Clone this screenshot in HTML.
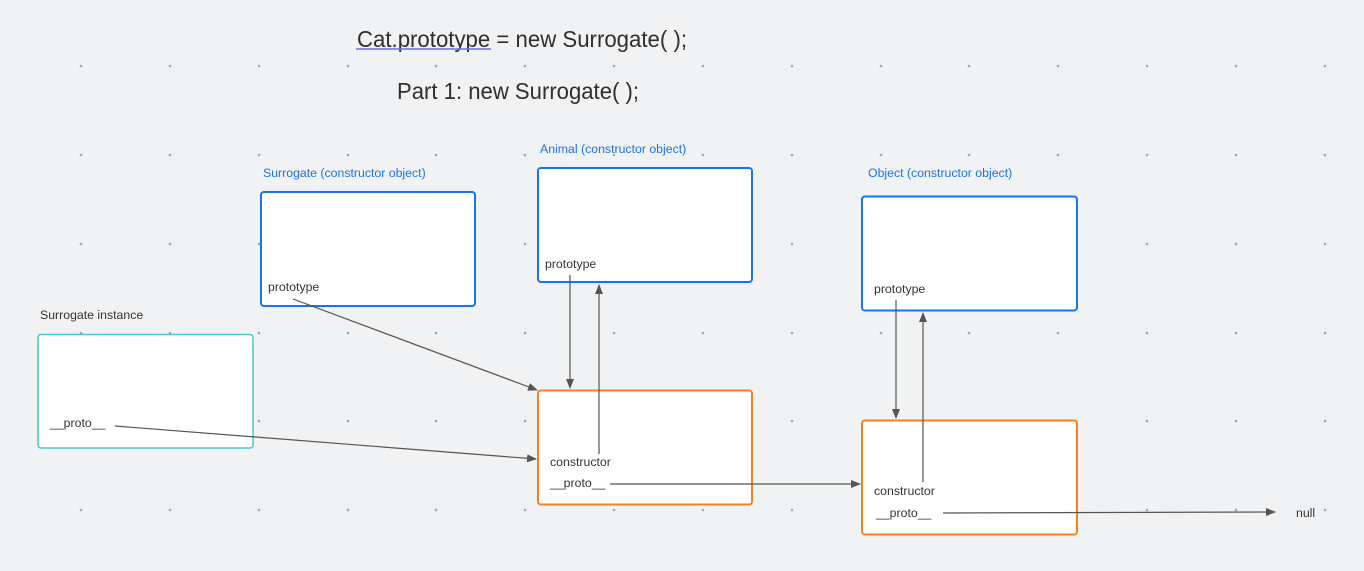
<!DOCTYPE html>
<html><head><meta charset="utf-8"><style>
html,body{margin:0;padding:0;background:#f1f2f4;}
svg{display:block;font-family:"Liberation Sans",Arial,sans-serif;}
</style></head><body>
<svg width="1364" height="571" viewBox="0 0 1364 571" xmlns="http://www.w3.org/2000/svg">
<defs>
<marker id="a" markerWidth="10" markerHeight="8" refX="9" refY="4" orient="auto" markerUnits="userSpaceOnUse">
<path d="M0,0 L10,4 L0,8 Z" fill="#555"/></marker>
</defs>
<rect width="1364" height="571" fill="#f1f2f4"/>
<g fill="#a4a7ad">
<circle cx="81" cy="66" r="1.3"/><circle cx="170" cy="66" r="1.3"/><circle cx="259" cy="66" r="1.3"/><circle cx="348" cy="66" r="1.3"/><circle cx="436" cy="66" r="1.3"/><circle cx="525" cy="66" r="1.3"/><circle cx="614" cy="66" r="1.3"/><circle cx="703" cy="66" r="1.3"/><circle cx="792" cy="66" r="1.3"/><circle cx="881" cy="66" r="1.3"/><circle cx="969" cy="66" r="1.3"/><circle cx="1058" cy="66" r="1.3"/><circle cx="1147" cy="66" r="1.3"/><circle cx="1236" cy="66" r="1.3"/><circle cx="1325" cy="66" r="1.3"/>
<circle cx="81" cy="155" r="1.3"/><circle cx="170" cy="155" r="1.3"/><circle cx="259" cy="155" r="1.3"/><circle cx="348" cy="155" r="1.3"/><circle cx="436" cy="155" r="1.3"/><circle cx="525" cy="155" r="1.3"/><circle cx="614" cy="155" r="1.3"/><circle cx="703" cy="155" r="1.3"/><circle cx="792" cy="155" r="1.3"/><circle cx="881" cy="155" r="1.3"/><circle cx="969" cy="155" r="1.3"/><circle cx="1058" cy="155" r="1.3"/><circle cx="1147" cy="155" r="1.3"/><circle cx="1236" cy="155" r="1.3"/><circle cx="1325" cy="155" r="1.3"/>
<circle cx="81" cy="244" r="1.3"/><circle cx="170" cy="244" r="1.3"/><circle cx="259" cy="244" r="1.3"/><circle cx="348" cy="244" r="1.3"/><circle cx="436" cy="244" r="1.3"/><circle cx="525" cy="244" r="1.3"/><circle cx="614" cy="244" r="1.3"/><circle cx="703" cy="244" r="1.3"/><circle cx="792" cy="244" r="1.3"/><circle cx="881" cy="244" r="1.3"/><circle cx="969" cy="244" r="1.3"/><circle cx="1058" cy="244" r="1.3"/><circle cx="1147" cy="244" r="1.3"/><circle cx="1236" cy="244" r="1.3"/><circle cx="1325" cy="244" r="1.3"/>
<circle cx="81" cy="333" r="1.3"/><circle cx="170" cy="333" r="1.3"/><circle cx="259" cy="333" r="1.3"/><circle cx="348" cy="333" r="1.3"/><circle cx="436" cy="333" r="1.3"/><circle cx="525" cy="333" r="1.3"/><circle cx="614" cy="333" r="1.3"/><circle cx="703" cy="333" r="1.3"/><circle cx="792" cy="333" r="1.3"/><circle cx="881" cy="333" r="1.3"/><circle cx="969" cy="333" r="1.3"/><circle cx="1058" cy="333" r="1.3"/><circle cx="1147" cy="333" r="1.3"/><circle cx="1236" cy="333" r="1.3"/><circle cx="1325" cy="333" r="1.3"/>
<circle cx="81" cy="421" r="1.3"/><circle cx="170" cy="421" r="1.3"/><circle cx="259" cy="421" r="1.3"/><circle cx="348" cy="421" r="1.3"/><circle cx="436" cy="421" r="1.3"/><circle cx="525" cy="421" r="1.3"/><circle cx="614" cy="421" r="1.3"/><circle cx="703" cy="421" r="1.3"/><circle cx="792" cy="421" r="1.3"/><circle cx="881" cy="421" r="1.3"/><circle cx="969" cy="421" r="1.3"/><circle cx="1058" cy="421" r="1.3"/><circle cx="1147" cy="421" r="1.3"/><circle cx="1236" cy="421" r="1.3"/><circle cx="1325" cy="421" r="1.3"/>
<circle cx="81" cy="510" r="1.3"/><circle cx="170" cy="510" r="1.3"/><circle cx="259" cy="510" r="1.3"/><circle cx="348" cy="510" r="1.3"/><circle cx="436" cy="510" r="1.3"/><circle cx="525" cy="510" r="1.3"/><circle cx="614" cy="510" r="1.3"/><circle cx="703" cy="510" r="1.3"/><circle cx="792" cy="510" r="1.3"/><circle cx="881" cy="510" r="1.3"/><circle cx="969" cy="510" r="1.3"/><circle cx="1058" cy="510" r="1.3"/><circle cx="1147" cy="510" r="1.3"/><circle cx="1236" cy="510" r="1.3"/><circle cx="1325" cy="510" r="1.3"/>
</g>

<text x="357" y="47" font-size="23" fill="#2e2e2e" textLength="330" lengthAdjust="spacingAndGlyphs">Cat.prototype = new Surrogate( );</text>
<line x1="356" y1="49" x2="491" y2="49" stroke="#6a6ee8" stroke-width="1.5"/>
<text x="397" y="99" font-size="23" fill="#2e2e2e" textLength="242" lengthAdjust="spacingAndGlyphs">Part 1: new Surrogate( );</text>

<g fill="#fff" stroke-width="2">
<rect x="38" y="334.5" width="215" height="113.5" rx="3" stroke="#4fc5c6" stroke-width="1.5"/>
<rect x="261" y="192" width="214" height="114" rx="3" stroke="#1a73e8"/>
<rect x="538" y="168" width="214" height="114" rx="3" stroke="#1a73e8"/>
<rect x="862" y="196.5" width="215" height="114" rx="3" stroke="#1a73e8"/>
<rect x="538" y="390.5" width="214" height="114" rx="3" stroke="#f5821f"/>
<rect x="862" y="420.5" width="215" height="114" rx="3" stroke="#f5821f"/>
</g>

<g font-size="12.3" fill="#1a73e8">
<text x="263" y="177">Surrogate (constructor object)</text>
<text x="540" y="153">Animal (constructor object)</text>
<text x="868" y="177">Object (constructor object)</text>
</g>
<g font-size="12.3" fill="#333">
<text x="40" y="319">Surrogate instance</text>
<text x="268" y="291">prototype</text>
<text x="545" y="268">prototype</text>
<text x="874" y="293">prototype</text>
<text x="50" y="427">__proto__</text>
<text x="550" y="466">constructor</text>
<text x="550" y="487">__proto__</text>
<text x="874" y="495">constructor</text>
<text x="876" y="517">__proto__</text>
<text x="1296" y="517">null</text>
</g>

<g stroke="#555" stroke-width="1.2" fill="none" marker-end="url(#a)">
<line x1="293" y1="299" x2="537" y2="390"/>
<line x1="115" y1="426" x2="536" y2="459"/>
<line x1="570" y1="275" x2="570" y2="388"/>
<line x1="599" y1="454" x2="599" y2="285"/>
<line x1="610" y1="484" x2="860" y2="484"/>
<line x1="896" y1="300" x2="896" y2="418"/>
<line x1="923" y1="482" x2="923" y2="313"/>
<line x1="943" y1="513" x2="1275" y2="512"/>
</g>
</svg>
</body></html>
